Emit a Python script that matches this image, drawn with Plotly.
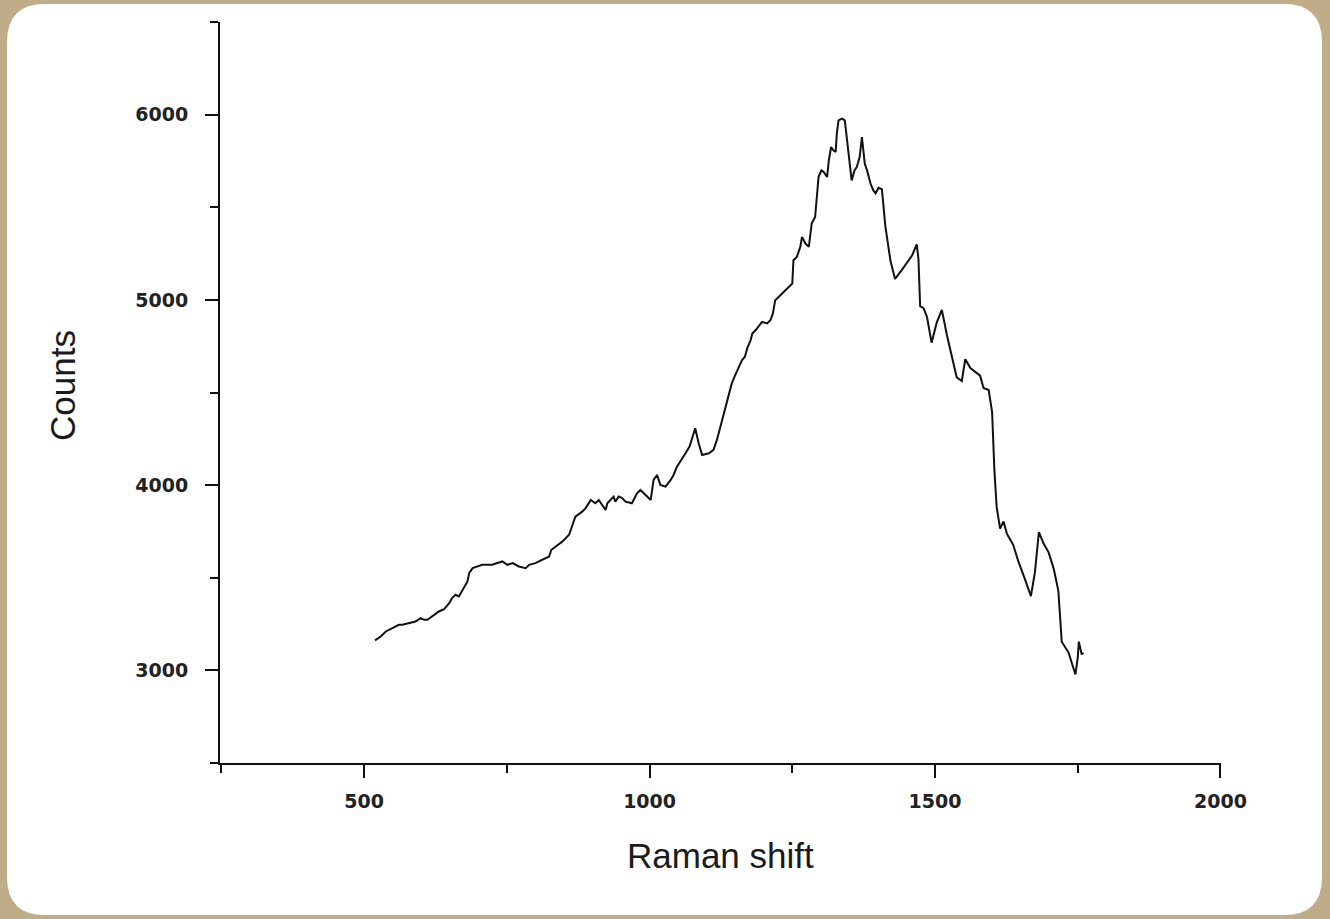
import plotly.graph_objects as go

# Raman spectrum: shift (cm^-1) and detector counts
raman_shift = [
    519, 529, 538, 544, 552, 561, 567, 576, 584, 590, 599, 605, 611, 619, 631,
    640, 649, 654, 660, 666, 675, 681, 684, 690, 707, 724, 742, 751, 760, 771,
    783, 789, 800, 812, 824, 828, 836, 847, 859, 864, 870, 882, 888, 897, 905,
    911, 917, 923, 926, 932, 937, 940, 946, 952, 958, 969, 978, 984, 993, 1002,
    1007, 1013, 1019, 1028, 1037, 1042, 1048, 1054, 1063, 1070, 1076, 1080, 1086,
    1092, 1104, 1112, 1118, 1121, 1127, 1133, 1139, 1144, 1150, 1156, 1162, 1167,
    1171, 1177, 1180, 1186, 1197, 1206, 1212, 1216, 1220, 1226, 1232, 1238, 1244,
    1250, 1252, 1258, 1264, 1267, 1273, 1279, 1284, 1290, 1294, 1296, 1301, 1305,
    1311, 1314, 1318, 1322, 1326, 1328, 1331, 1337, 1342, 1346, 1350, 1354, 1359,
    1363, 1368, 1372, 1377, 1381, 1387, 1392, 1396, 1401, 1407, 1413, 1422, 1430,
    1442, 1451, 1460, 1468, 1471, 1474, 1480, 1486, 1494, 1503, 1512, 1521, 1530,
    1538, 1547, 1553, 1562, 1570, 1579, 1585, 1594, 1600, 1604, 1608, 1614, 1620,
    1626, 1637, 1646, 1658, 1668, 1675, 1682, 1690, 1699, 1708, 1716, 1722, 1734,
    1746, 1750, 1752, 1757, 1760,
]
counts = [
    3162, 3183, 3210, 3219, 3229, 3246, 3246, 3252, 3256, 3264, 3282, 3273, 3273,
    3291, 3318, 3331, 3363, 3390, 3408, 3399, 3444, 3480, 3525, 3552, 3570, 3570,
    3588, 3570, 3579, 3561, 3552, 3570, 3579, 3597, 3615, 3651, 3668, 3695, 3732,
    3776, 3830, 3857, 3876, 3920, 3902, 3920, 3893, 3866, 3902, 3920, 3938, 3911,
    3938, 3930, 3911, 3902, 3956, 3974, 3947, 3920, 4028, 4055, 4001, 3992, 4028,
    4055, 4100, 4127, 4172, 4208, 4262, 4307, 4226, 4163, 4172, 4190, 4244, 4280,
    4352, 4423, 4495, 4549, 4594, 4639, 4675, 4693, 4738, 4783, 4819, 4837, 4881,
    4873, 4891, 4927, 4998, 5016, 5035, 5052, 5070, 5088, 5214, 5232, 5286, 5340,
    5304, 5286, 5412, 5448, 5591, 5663, 5699, 5690, 5663, 5753, 5825, 5807, 5798,
    5897, 5969, 5978, 5969, 5861, 5753, 5645, 5699, 5717, 5771, 5879, 5735, 5699,
    5628, 5591, 5575, 5605, 5597, 5398, 5211, 5113, 5162, 5202, 5241, 5300, 5221,
    4966, 4955, 4907, 4769, 4877, 4946, 4808, 4691, 4582, 4562, 4680, 4632, 4611,
    4591, 4524, 4513, 4395, 4082, 3883, 3765, 3804, 3737, 3678, 3588, 3489, 3401,
    3529, 3746, 3686, 3637, 3548, 3431, 3155, 3096, 2978, 3067, 3155, 3086, 3096,
]

x_ticks = [500, 1000, 1500, 2000]
y_ticks = [3000, 4000, 5000, 6000]

W, H = 1330, 919
M_L, M_R, M_T, M_B = 220, 109, 22, 156
PW, PH = W - M_L - M_R, H - M_T - M_B


def px_to_paper(px, py):
    return (px - M_L) / PW, (H - M_B - py) / PH


def rounded_rect_path(x0, y0, x1, y1, r):
    pts = [
        ("M", [(x0 + r, y0)]),
        ("L", [(x1 - r, y0)]),
        ("Q", [(x1, y0), (x1, y0 + r)]),
        ("L", [(x1, y1 - r)]),
        ("Q", [(x1, y1), (x1 - r, y1)]),
        ("L", [(x0 + r, y1)]),
        ("Q", [(x0, y1), (x0, y1 - r)]),
        ("L", [(x0, y0 + r)]),
        ("Q", [(x0, y0), (x0 + r, y0)]),
    ]
    out = []
    for cmd, coords in pts:
        s = " ".join("%.5f,%.5f" % px_to_paper(a, b) for a, b in coords)
        out.append(cmd + s)
    return " ".join(out) + " Z"


fig = go.Figure()
fig.add_trace(
    go.Scatter(
        x=raman_shift,
        y=counts,
        mode="lines",
        line=dict(color="#111111", width=2),
        showlegend=False,
        hoverinfo="x+y",
    )
)

tick_font = dict(family="DejaVu Sans", size=19, color="#222222", weight="bold")
axis_common = dict(
    showline=True,
    linecolor="#111111",
    linewidth=2,
    showgrid=False,
    zeroline=False,
    ticks="outside",
    tickcolor="#111111",
    tickwidth=2,
    ticklen=13,
    tickfont=tick_font,
    mirror=False,
)

fig.update_xaxes(
    range=[247.5, 2001],
    tickvals=x_ticks,
    ticktext=[str(v) for v in x_ticks],
    ticklabelstandoff=7,
    minor=dict(ticks="outside", ticklen=8, tickwidth=2, tickcolor="#111111",
               tickvals=[250, 750, 1250, 1750]),
    **axis_common,
)
fig.update_yaxes(
    range=[2500, 6500],
    tickvals=y_ticks,
    ticktext=[str(v) for v in y_ticks],
    ticklabelstandoff=13,
    minor=dict(ticks="outside", ticklen=8, tickwidth=2, tickcolor="#111111",
               tickvals=[2500, 3500, 4500, 5500, 6500]),
    **axis_common,
)

ax_title_font = dict(family="Liberation Sans, Arial", size=35, color="#1a1a1a")
tx, ty = px_to_paper(62, 386)
fig.add_annotation(text="Counts", xref="paper", yref="paper", x=tx, y=ty,
                   xanchor="center", yanchor="middle", textangle=-90,
                   showarrow=False, font=ax_title_font)
tx, ty = px_to_paper(720, 855)
fig.add_annotation(text="Raman shift", xref="paper", yref="paper", x=tx, y=ty,
                   xanchor="center", yanchor="middle",
                   showarrow=False, font=ax_title_font)

fig.add_shape(
    type="path",
    xref="paper",
    yref="paper",
    path=rounded_rect_path(7, 4, 1322, 915, 38),
    fillcolor="#ffffff",
    line=dict(width=0),
    layer="below",
)

fig.update_layout(
    width=W,
    height=H,
    margin=dict(l=M_L, r=M_R, t=M_T, b=M_B, pad=0),
    paper_bgcolor="#bfad8a",
    plot_bgcolor="rgba(0,0,0,0)",
    showlegend=False,
)

fig.write_html("out.html")
